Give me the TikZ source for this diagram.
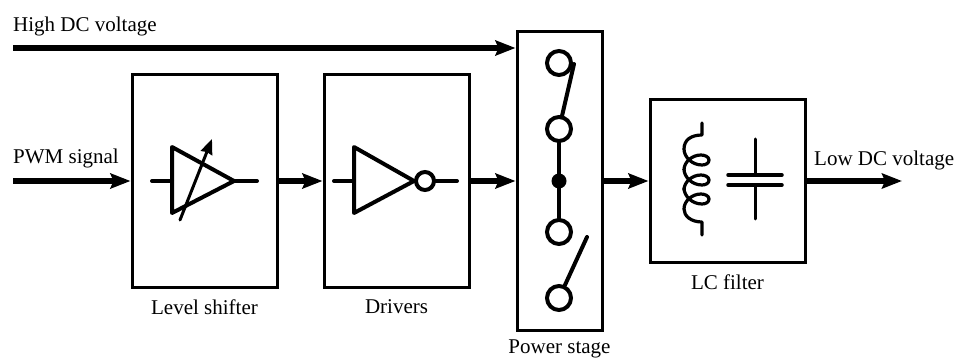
\documentclass[tikz,border=0pt]{standalone}
\usepackage{fontspec}
\setmainfont{Liberation Serif}
\usetikzlibrary{arrows.meta}
\tikzset{
  blockbox/.style={draw, line width=3pt, inner sep=0pt},
  sigarrow/.style={line width=6pt, -{Stealth[length=20pt,width=15pt,inset=3pt]}},
  symline/.style={line width=4pt, line cap=round, line join=round},
  coilline/.style={line width=3.2pt, line cap=round, line join=round},
  contact/.style={circle, draw, line width=4pt, minimum size=24pt, inner sep=0pt},
  caption/.style={inner sep=0pt, font=\fontsize{21}{24}\selectfont},
}

\begin{document}
\begin{tikzpicture}[x=1pt,y=-1pt]
\useasboundingbox (0,0) rectangle (956,358);
\def\ym{181}

% blocks
\node[blockbox, minimum width=145pt, minimum height=212pt] (shifter) at (204.5,\ym) {};
\node[blockbox, minimum width=145pt, minimum height=212pt] (drivers) at (396.5,\ym) {};
\node[blockbox, minimum width=85pt, minimum height=299pt] (power) at (559.5,\ym) {};
\node[blockbox, minimum width=155pt, minimum height=163pt] (filter) at (727.5,\ym) {};

% labels
\node[caption, anchor=west] (highlabel) at (13,26) {High DC voltage};
\node[caption, anchor=west] (pwmlabel) at (13,158) {PWM signal};
\node[caption, anchor=west] (lowlabel) at (814,160) {Low DC voltage};
\node[caption] (shifterlabel) at (204.5,307) {Level shifter};
\node[caption] (driverslabel) at (396.5,307) {Drivers};
\node[caption] (powerlabel) at (559.5,349) {Power stage};
\node[caption] (filterlabel) at (727.5,282) {LC filter};

% signal path
\coordinate (highstart) at (13,48);
\coordinate (pwmstart) at (13,\ym);
\coordinate (lowend) at (902,\ym);
\draw[sigarrow] (highstart) -- (highstart -| power.west);
\draw[sigarrow] (pwmstart) -- (shifter.west);
\draw[sigarrow] (shifter.east) -- (drivers.west);
\draw[sigarrow] (drivers.east) -- (power.west);
\draw[sigarrow] (power.east) -- (filter.west);
\draw[sigarrow] (filter.east) -- (lowend);

% level shifter symbol
\draw[symline] (152,\ym) -- (172,\ym);
\draw[symline] (234,\ym) -- (257,\ym);
\draw[symline] (172,147) -- (234,\ym) -- (172,213) -- cycle;
\draw[line width=3pt, line cap=round, -{Stealth[length=15pt,width=12pt,inset=1pt]}] (180,220) -- (212,139);

% inverter symbol
\node[contact, minimum size=18pt] (bubble) at (425,\ym) {};
\draw[symline] (334,\ym) -- (354,\ym);
\draw[symline] (bubble) -- (457,\ym);
\draw[symline] (354,147) -- (bubble.west) -- (354,213) -- cycle;

% switches
\node[contact] (contacta) at (559,63) {};
\node[contact] (contactb) at (559,129) {};
\node[contact] (contactc) at (559,232) {};
\node[contact] (contactd) at (559,298) {};
\node[circle, fill, minimum size=15pt, inner sep=0pt] (midpoint) at (559,\ym) {};
\draw[symline] (contactb) -- (midpoint) -- (contactc);
\draw[symline] (562,116) -- (574,64);
\draw[symline] (565,285) -- (587,237);

% inductor
\draw[coilline] (702,123) -- (702,135) .. controls (691,135) and (684,140) .. (684,149);
\foreach \yc in {160,180,199}{
 \draw[coilline] (684,\yc-11) .. controls (684,\yc-3) and (692,\yc+5) .. (702,\yc+5)
   .. controls (706,\yc+5) and (709,\yc+3) .. (709,\yc)
   .. controls (709,\yc-3) and (705,\yc-5) .. (701,\yc-5)
   .. controls (692,\yc-5) and (684,\yc+2) .. (684,\yc+10);
}
\draw[coilline] (684,209) .. controls (684,216) and (691,222) .. (702,222) -- (702,235);

% capacitor
\draw[line width=3pt, line cap=round] (755,139) -- (755,175);
\draw[line width=3pt, line cap=round] (755,185) -- (755,219);
\draw[line width=3.5pt, line cap=round] (728,175) -- (782,175);
\draw[line width=3.5pt, line cap=round] (728,185) -- (782,185);
\end{tikzpicture}
\end{document}
